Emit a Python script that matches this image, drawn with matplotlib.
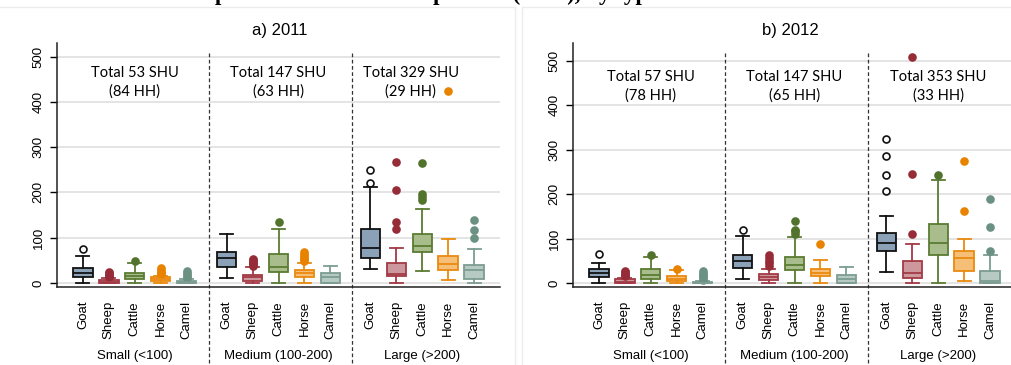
import matplotlib
matplotlib.use('Agg')
from matplotlib import pyplot as plt
from matplotlib.transforms import blended_transform_factory as blend

species = ['Goat', 'Sheep', 'Cattle', 'Horse', 'Camel']
groups = ['Small (<100)', 'Medium (100-200)', 'Large (>200)']

# 2011, order: small(goat..camel), medium(...), large(...)
lo_2011 = [0, 0, 0, 0, 0, 10, 0, 0, 0, 0, 30, 0, 27, 6, 0]
q1_2011 = [13, 0, 8, 4, 0, 36, 4, 24, 14, 0, 54, 15, 68, 29, 8]
med_2011 = [22, 2, 16, 8, 2, 54, 12, 36, 21, 12, 78, 19, 82, 42, 29]
q3_2011 = [33, 6, 23, 12, 5, 69, 18, 63, 28, 22, 120, 45, 109, 60, 39]
hi_2011 = [60, 10, 43, 16, 8, 108, 35, 120, 45, 37, 211, 78, 163, 97, 74]
out_2011 = [[74], [12, 15, 18, 21, 24], [49], [19, 22, 25, 28, 32], [10, 14, 18, 22, 26],
            [], [38, 41, 44, 47, 50, 53], [135], [48, 52, 56, 60, 64, 68], [],
            [221, 249], [120, 134, 205, 268], [183, 190, 196, 265], [424], [100, 118, 139]]
totals_2011 = ['Total 53 SHU\n(84 HH)', 'Total 147 SHU\n(63 HH)', 'Total 329 SHU\n(29 HH)']

# 2012
lo_2012 = [0, 0, 0, 0, 0, 9, 0, 0, 0, 0, 25, 0, 0, 4, 0]
q1_2012 = [13, 0, 10, 5, 0, 33, 7, 30, 15, 0, 72, 12, 64, 28, 0]
med_2012 = [22, 3, 18, 10, 0.5, 49, 13, 41, 23, 10, 91, 23, 89, 56, 5]
q3_2012 = [31, 8, 31, 16, 2, 64, 21, 59, 32, 17, 113, 49, 133, 73, 28]
hi_2012 = [44, 12, 58, 29, 4, 105, 32, 104, 51, 36, 151, 88, 231, 100, 63]
out_2012 = [[66], [15, 18, 21, 24, 27], [63], [31], [7, 11, 15, 19, 23, 27],
            [119], [38, 44, 50, 56, 62], [111, 116, 120, 139], [87], [],
            [207, 242, 286, 323], [110, 245, 509], [242], [162, 274], [73, 126, 188]]
totals_2012 = ['Total 57 SHU\n(78 HH)', 'Total 147 SHU\n(65 HH)', 'Total 353 SHU\n(33 HH)']

edge = ['#111111', '#a23a45', '#5b7b33', '#ea8a10', '#7d9d92']
face = ['#8aa1b8', '#cc979d', '#a9bc8c', '#f5bf78', '#b6cac3']
dots = ['none', '#962c37', '#52732c', '#e88300', '#6b9183']

gap = 5.55
pos = [g * gap + i for g in range(3) for i in range(5)]
mids = [g * gap + 2 for g in range(3)]

fig = plt.figure(figsize=(10.11, 3.65), dpi=100)


def panel(rect, title, tx, ylim, lo, q1, med, q3, hi, out, totals, text_x):
    ax = fig.add_axes(rect)
    for k in range(15):
        i = k % 5
        st = dict(whislo=lo[k], q1=q1[k], med=med[k], q3=q3[k], whishi=hi[k], fliers=out[k])
        ax.bxp([st], positions=[pos[k]], widths=0.75, capwidths=0.5, patch_artist=True,
               boxprops=dict(facecolor=face[i], edgecolor=edge[i], lw=1.3),
               medianprops=dict(color=edge[i], lw=1.3),
               whiskerprops=dict(color=edge[i], lw=1.3),
               capprops=dict(color=edge[i], lw=1.3),
               flierprops=dict(marker='o', markersize=5, markerfacecolor=dots[i],
                               markeredgecolor=edge[i] if i == 0 else dots[i], markeredgewidth=1.2))
    ax.set_xlim(-1, 16.1)
    ax.set_ylim(*ylim)
    ax.set_yticks([0, 100, 200, 300, 400, 500])
    ax.set_xticks(pos)
    ax.set_xticklabels(species * 3, rotation=90, family='Liberation Sans', fontsize=9.5)
    for lb in ax.get_yticklabels():
        lb.set_rotation(90)
        lb.set_va('center')
        lb.set_family('Liberation Sans')
        lb.set_fontsize(9.5)
    ax.tick_params(axis='x', length=0, pad=10)
    ax.tick_params(axis='y', length=5, width=1, pad=4)
    ax.yaxis.grid(True, color='#e2e2e2', lw=1.3)
    ax.set_axisbelow(True)
    for s in ['top', 'right']:
        ax.spines[s].set_visible(False)
    for s in ['left', 'bottom']:
        ax.spines[s].set_color('#222222')
        ax.spines[s].set_linewidth(1.1)
    tr = blend(ax.transData, ax.transAxes)
    for xd in [4.85, 10.4]:
        ax.plot([xd, xd], [-0.31, 0.965], transform=tr, clip_on=False,
                color='#333333', lw=0.9, ls=(0, (3, 2)))
    for g in range(3):
        ax.text(mids[g], -0.283, groups[g], transform=tr, ha='center', va='center',
                family='Liberation Sans', fontsize=9.5)
        ax.text(text_x[g], 443, totals[g], ha='center', va='center', family='Lato',
                fontsize=10.5, linespacing=1.35)
    fig.text(tx, 1 - 30 / 365, title, ha='center', va='center', family='Liberation Sans', fontsize=12)
    return ax


panel([57 / 1011, 78 / 365, 443 / 1011, 244 / 365], 'a) 2011', 280 / 1011, (-9, 530),
      lo_2011, q1_2011, med_2011, q3_2011, hi_2011, out_2011, totals_2011, [mids[0], mids[1], mids[2] - 0.45])
panel([573 / 1011, 78 / 365, 443 / 1011, 244 / 365], 'b) 2012', 790 / 1011, (-9, 540),
      lo_2012, q1_2012, med_2012, q3_2012, hi_2012, out_2012, totals_2012, mids)

# faint panel borders and the clipped heading above them
fig.add_artist(plt.Line2D([0, 515 / 1011], [1 - 7 / 365] * 2, color='#ececec', lw=1))
fig.add_artist(plt.Line2D([522 / 1011, 1], [1 - 7 / 365] * 2, color='#ececec', lw=1))
fig.add_artist(plt.Line2D([515 / 1011] * 2, [0, 1 - 7 / 365], color='#ececec', lw=1))
fig.add_artist(plt.Line2D([522 / 1011] * 2, [0, 1 - 7 / 365], color='#ececec', lw=1))
fig.text(118 / 1011, 1.0, 'Herd composition and herd size per HH (SHU), by type', ha='left', va='baseline',
         family='Liberation Serif', weight='bold', fontsize=16.5)

fig.savefig('out.png', dpi=100)
